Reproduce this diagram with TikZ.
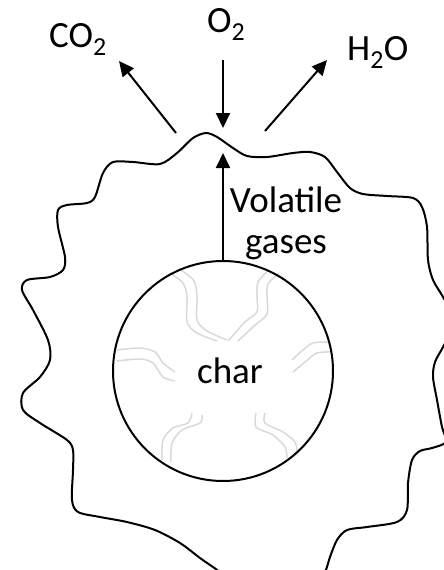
\documentclass[tikz,border=0pt]{standalone}
\usepackage{fontspec}
\setmainfont{Carlito}
\usetikzlibrary{arrows.meta}

\begin{document}
\begin{tikzpicture}[x=1pt, y=-1pt]

\tikzset{flow/.style={line width=2pt, -{Triangle[length=15pt, width=14pt]}}}
\tikzset{species/.style={inner sep=0pt, anchor=base west, font=\fontsize{37}{41}\selectfont}}
\tikzset{pore/.style={black!15, line width=1.5pt}}
\tikzset{particle/.style={draw, circle, line width=2pt, minimum size=220pt, inner sep=0pt, font=\fontsize{37}{41}\selectfont}}

% picture frame
\path[use as bounding box, clip] (0,0) rectangle (444,570);

% gas film round the particle
\draw[line width=2pt] plot[smooth cycle, tension=0.5] coordinates {
  (206,133) (217,137) (233,148) (247,156) (267,157) (293,153) (310,152)
  (325,157) (337,172) (350,188) (363,194) (387,196) (413,198) (422,207)
  (427,227) (428,260) (433,280) (443,297) (455,322) (443,347) (435,362)
  (433,377) (437,400) (442,427) (446,442) (432,448) (420,451) (412,460)
  (408,483) (407,510) (397,522) (367,527) (347,530) (337,540) (330,557)
  (325,572) (315,585) (280,593) (240,585) (213,567) (200,558) (180,543)
  (155,530) (127,522) (100,517) (78,512) (72,500) (73,470) (73,450)
  (67,440) (40,423) (23,410) (23,393) (40,377) (50,360) (48,340)
  (33,310) (22,290) (27,280) (50,277) (63,270) (65,257) (58,227)
  (58,210) (67,205) (87,203) (95,197) (103,173) (113,162) (133,162)
  (160,164) (177,153) (193,138)};

% pores in the char
\draw[pore] plot[smooth] coordinates {(170,273) (183,283) (187,297) (187,322) (197,333) (217,341)};
\draw[pore] plot[smooth] coordinates {(181,270) (194,281) (197,297) (197,320) (207,331) (227,340)};
\draw[pore] plot[smooth] coordinates {(268,271) (258,282) (257,297) (257,312) (245,322) (228,341)};
\draw[pore] plot[smooth] coordinates {(279,273) (268,284) (267,297) (267,314) (254,326) (238,341)};
\draw[pore] plot[smooth] coordinates {(117,350) (140,348) (155,352) (163,363) (175,372)};
\draw[pore] plot[smooth] coordinates {(117,361) (140,359) (153,363) (163,377) (175,381)};
\draw[pore] plot[smooth] coordinates {(292,360) (303,350) (313,343) (330,342)};
\draw[pore] plot[smooth] coordinates {(293,372) (305,362) (317,353) (332,352)};
\draw[pore] plot[smooth] coordinates {(192,413) (188,423) (173,428) (163,440) (162,460)};
\draw[pore] plot[smooth] coordinates {(202,415) (200,423) (182,430) (172,443) (171,462)};
\draw[pore] plot[smooth] coordinates {(256,413) (256,427) (273,435) (285,447) (287,458)};
\draw[pore] plot[smooth] coordinates {(265,413) (265,423) (283,432) (295,442) (297,452)};

% char particle
\node[particle] (char) at (223,371) {\hspace{14pt}char};

% gas species
\node[species] (co2) at (49,47) {CO\textsubscript{2}};
\node[species] (o2) at (207,32) {O\textsubscript{2}};
\node[species] (h2o) at (347,60) {H\textsubscript{2}O};
\node[species, anchor=base, align=center] (volatile) at (286,253) {Volatile\\gases};

% arrow ends
\coordinate (co2out) at (176,133);
\coordinate (co2tip) at (119,61);
\coordinate (o2in) at (223,60);
\coordinate (o2tip) at (223,128);
\coordinate (h2oout) at (265,131);
\coordinate (h2otip) at (327,60);
\coordinate (voltip) at (223,153);

% fluxes
\draw[flow] (co2out) -- (co2tip);
\draw[flow] (o2in) -- (o2tip);
\draw[flow] (h2oout) -- (h2otip);
\draw[flow] (char.north) -- (voltip);

\end{tikzpicture}
\end{document}
